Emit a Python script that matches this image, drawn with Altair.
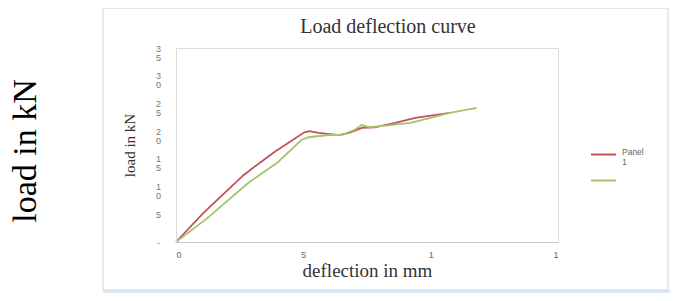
import altair as alt
import pandas as pd

# ---- data ----
red_x = [0, 1.07, 2.66, 3.85, 5.04, 5.24, 5.6, 6.4, 6.8, 7.3, 7.8, 8.6, 9.4, 10.75]
red_y = [0, 5.2, 12.1, 16.2, 19.8, 20.0, 19.7, 19.3, 19.7, 20.6, 20.7, 21.5, 22.4, 23.3]
green_x = [0, 1.23, 2.82, 4.0, 4.92, 5.2, 6.0, 6.5, 7.0, 7.3, 7.6, 8.4, 9.2, 10.0, 10.75, 11.8]
green_y = [0, 4.3, 10.6, 14.4, 18.4, 18.9, 19.3, 19.3, 20.2, 21.1, 20.7, 21.1, 21.5, 22.4, 23.3, 24.2]
series_names = ["Panel 1", "Panel 2"]
series_colors = ["#c4505a", "#a9c26a"]
x_ticks = [0, 5, 10, 15]
y_ticks = [0, 5, 10, 15, 20, 25, 30, 35]
title_text = ["Load deflection curve"]
x_title = "deflection in mm"
y_title = "load in kN"
side_label = ["load in kN"]

rows = []
for i, (x, y) in enumerate(zip(red_x, red_y)):
    rows.append({"deflection": x, "load": y, "series": series_names[0], "i": i})
for i, (x, y) in enumerate(zip(green_x, green_y)):
    rows.append({"deflection": x, "load": y, "series": series_names[1], "i": i})
df = pd.DataFrame(rows)

W, H = 382, 194

one = pd.DataFrame({"k": [0]})

band = alt.Chart(one).mark_rect(color="#dbe8f6").encode(
    x=alt.value(-73), x2=alt.value(520), y=alt.value(242), y2=alt.value(270)
)
box = alt.Chart(one).mark_rect(fillOpacity=0, stroke="#d4d4d4", strokeWidth=1).encode(
    x=alt.value(-73), x2=alt.value(492), y=alt.value(-40), y2=alt.value(242)
)

side = alt.Chart(pd.DataFrame({"t": side_label})).mark_text(
    angle=270, font="Liberation Serif", fontSize=34, color="#000000",
    align="center", baseline="middle"
).encode(text="t:N", x=alt.value(-150), y=alt.value(103))

title = alt.Chart(pd.DataFrame({"t": title_text})).mark_text(
    font="Liberation Serif", fontSize=20, color="#333333",
    align="center", baseline="alphabetic"
).encode(text="t:N", x=alt.value(212), y=alt.value(-15))

lines = alt.Chart(df).mark_line(strokeWidth=1.8).encode(
    x=alt.X("deflection:Q",
            scale=alt.Scale(domain=[0, 15], nice=False),
            axis=alt.Axis(values=x_ticks, title=x_title, grid=False, ticks=False,
                          zindex=1,
                          domainColor="#c8c8c8", labelColor="#666666",
                          labelFont="Liberation Sans", labelFontSize=9,
                          labelPadding=8, labelExpr="substring(datum.label, 0, 1)",
                          titleFont="Liberation Serif", titleFontSize=19,
                          titleFontWeight="normal", titleColor="#333333",
                          titleY=28, titleBaseline="middle")),
    y=alt.Y("load:Q",
            scale=alt.Scale(domain=[0, 35], nice=False),
            axis=alt.Axis(values=y_ticks, title=y_title, grid=False, ticks=False,
                          zindex=1,
                          domainColor="#dadada", labelColor="#777777",
                          labelFont="Liberation Sans", labelFontSize=9,
                          labelLineHeight=9, labelAlign="center", labelPadding=18,
                          labelExpr="datum.value == 0 ? '-' : split(datum.label, '')",
                          titleFont="Liberation Serif", titleFontSize=15,
                          titleFontWeight="normal", titleColor="#333333",
                          titleX=-47, titleY=97, titleBaseline="middle")),
    color=alt.Color("series:N",
                    scale=alt.Scale(domain=series_names, range=series_colors),
                    legend=alt.Legend(orient="none", legendX=414, legendY=93,
                                      title=None, symbolType="stroke", symbolSize=625,
                                      symbolStrokeWidth=2, labelFontSize=8.5,
                                      labelFont="Liberation Sans", labelColor="#666666",
                                      labelOffset=5, labelBaseline="alphabetic",
                                      labelExpr="datum.label == 'Panel 1' ? ['Panel', '1'] : ''",
                                      padding=0, rowPadding=0)),
    order="i:Q",
)

chart = alt.layer(band, box, side, title, lines).properties(
    width=W, height=H,
    autosize=alt.AutoSizeParams(type="none"),
    padding={"left": 168, "top": 40, "right": 112, "bottom": 51},
).configure_view(stroke=None).configure(background="white")

chart.save("out.html", embed_options={"renderer": "svg", "actions": False})
